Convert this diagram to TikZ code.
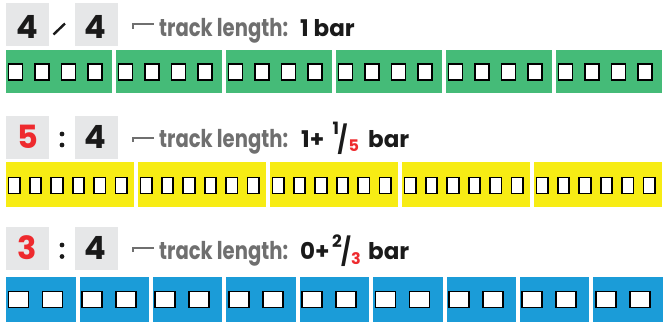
\documentclass[tikz,border=0pt]{standalone}
\usepackage{fontspec}
\setmainfont{Poppins}
\newfontfamily\labfont{Poppins}[FakeStretch=0.8]
\newfontfamily\valfont{Poppins}
\newfontfamily\numfont{Poppins}
\definecolor{tgreen}{HTML}{45BB78}
\definecolor{tyellow}{HTML}{F7EC14}
\definecolor{tblue}{HTML}{1B9CD8}
\definecolor{tgray}{HTML}{E6E7E8}
\definecolor{ttext}{HTML}{6F6F6F}
\definecolor{tblack}{HTML}{1A1A1A}
\definecolor{tred}{HTML}{EE2A2E}
\tikzset{
  seg/.style={draw=none, inner sep=0, anchor=north west},
  cell/.style={draw=black, fill=white, line width=1.8pt, inner sep=0, anchor=west, minimum height=16pt},
  hbox/.style={fill=tgray, draw=none, inner sep=0, minimum width=43pt, minimum height=43pt},
  bignum/.style={inner sep=0, font=\numfont\bfseries\fontsize{32}{32}\selectfont},
  lab/.style={inner sep=0, anchor=base west, font=\labfont\bfseries\fontsize{24.5}{24.5}\selectfont},
  val/.style={inner sep=0, anchor=base west, font=\valfont\bfseries\fontsize{23}{23}\selectfont},
  sup/.style={inner sep=0, anchor=base west, font=\valfont\bfseries\fontsize{17}{17}\selectfont},
  subs/.style={inner sep=0, anchor=base west, font=\valfont\bfseries\fontsize{16}{16}\selectfont},
  slash/.style={inner sep=0, anchor=base west, font=\labfont\bfseries\fontsize{27}{27}\selectfont},
  brk/.style={draw=ttext, line width=2pt},
}
\begin{document}
\begin{tikzpicture}[x=1pt,y=-1pt]
\useasboundingbox (0,0) rectangle (665,322);
% ---- track bars ----
\foreach \i in {0,...,5} {
  \pgfmathsetmacro\xa{6+110*\i}
  \node[seg, fill=tgreen, minimum width=106pt, minimum height=43pt] (g\i) at (\xa,50) {};
  \foreach \j in {0,...,3} {
    \pgfmathsetmacro\xc{\xa+1.5+26.5*\j}
    \node[cell, minimum width=14pt] (g\i c\j) at (\xc,72) {};
  }
}
\foreach \i in {0,...,4} {
  \pgfmathsetmacro\xa{6+132*\i}
  \node[seg, fill=tyellow, minimum width=128pt, minimum height=45pt] (y\i) at (\xa,162) {};
  \foreach \j in {0,...,5} {
    \pgfmathsetmacro\xc{\xa+1.5+21.4*\j}
    \node[cell, minimum width=11.5pt] (y\i c\j) at (\xc,185.5) {};
  }
}
\foreach \i in {0,...,8} {
  \pgfmathsetmacro\xa{6+73.4*\i}
  \node[seg, fill=tblue, minimum width=69.4pt, minimum height=45pt] (b\i) at (\xa,277) {};
  \foreach \j in {0,...,1} {
    \pgfmathsetmacro\xc{\xa+1.5+34*\j}
    \node[cell, minimum width=20pt] (b\i c\j) at (\xc,299.5) {};
  }
}
% ---- headers ----
\node[hbox] (h1a) at (27.5,24.5) {};
\node[hbox] (h1b) at (96,24.5) {};
\node[hbox] (h2a) at (27.5,137.5) {};
\node[hbox] (h2b) at (96,137.5) {};
\node[hbox] (h3a) at (27.5,248.5) {};
\node[hbox] (h3b) at (96,248.5) {};
\node[bignum, text=tblack] (n1a) at (27.5,26.5) {4};
\node[bignum, text=tblack] (n1b) at (95.5,26.5) {4};
\node[bignum, text=tred] (n2a) at (27.5,137) {5};
\node[bignum, text=tblack] (n2b) at (95.5,137) {4};
\node[bignum, text=tred] (n3a) at (27.5,248) {3};
\node[bignum, text=tblack] (n3b) at (95.5,248) {4};
% separators
\draw[tblack, line width=2.4pt] (53.5,34.5) -- (65,23.5);
\fill[tblack] (62,134) circle (2.4pt) (62,145) circle (2.4pt);
\fill[tblack] (62,245) circle (2.4pt) (62,256.5) circle (2.4pt);
% brackets
\draw[brk] (133,28.5) -- (133,24) -- (154,24);
\draw[brk] (133,142) -- (133,137.5) -- (154,137.5);
\draw[brk] (133,252) -- (133,247.5) -- (154,247.5);
% labels
\node[lab, text=ttext] (t1) at (159,36) {track length:};
\node[val, text=tblack] (v1) at (300,36) {1 bar};
\node[lab, text=ttext] (t2) at (159,147) {track length:};
\node[val, text=tblack] (v2) at (301,147) {1+};
\node[sup, text=tblack] (s2) at (332.5,134) {1};
\node[slash, text=tblack] (d2) at (337.5,149) {/};
\node[subs, text=tred] (q2) at (348.5,151) {5};
\node[val, text=tblack] (w2) at (368,147) {bar};
\node[lab, text=ttext] (t3) at (159,259) {track length:};
\node[val, text=tblack] (v3) at (300,259) {0+};
\node[sup, text=tblack] (s3) at (332,247) {2};
\node[slash, text=tblack] (d3) at (341,261) {/};
\node[subs, text=tred] (q3) at (351,264) {3};
\node[val, text=tblack] (w3) at (368,259) {bar};
\end{tikzpicture}
\end{document}
